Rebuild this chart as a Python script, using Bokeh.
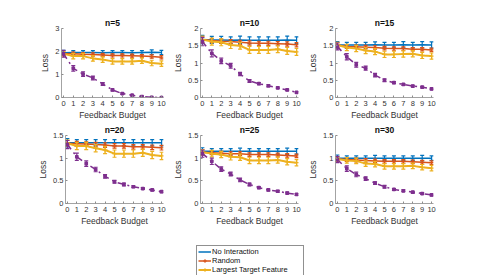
from bokeh.plotting import figure
from bokeh.layouts import column, row, Spacer
from bokeh.models import Range1d, FixedTicker, CustomJSTickFormatter, Legend, LegendItem
from bokeh.embed import file_html
from bokeh.resources import INLINE

budget = list(range(11))
titles = ["n=5", "n=10", "n=15", "n=20", "n=25", "n=30"]
y_max = [3, 2, 2, 1.5, 1.5, 1.5]
y_ticks = [[0, 1, 2, 3], [0, 0.5, 1, 1.5, 2], [0, 0.5, 1, 1.5, 2],
           [0, 0.5, 1, 1.5], [0, 0.5, 1, 1.5], [0, 0.5, 1, 1.5]]
x_ticks = list(range(11))
series_names = ["No Interaction", "Random", "Largest Target Feature"]

no_interaction = [
    [1.95, 1.96, 1.96, 1.96, 1.95, 1.96, 1.96, 1.95, 1.96, 1.97, 1.96],
    [1.68, 1.67, 1.67, 1.66, 1.67, 1.66, 1.66, 1.66, 1.66, 1.67, 1.66],
    [1.52, 1.52, 1.52, 1.52, 1.53, 1.52, 1.52, 1.53, 1.52, 1.53, 1.52],
    [1.34, 1.34, 1.34, 1.34, 1.34, 1.34, 1.34, 1.34, 1.34, 1.34, 1.34],
    [1.15, 1.15, 1.15, 1.15, 1.15, 1.15, 1.15, 1.15, 1.15, 1.15, 1.15],
    [1.00, 1.00, 1.00, 1.00, 1.00, 1.00, 1.00, 1.00, 1.00, 1.00, 1.00],
]
random_sel = [
    [1.90, 1.90, 1.88, 1.87, 1.85, 1.83, 1.83, 1.82, 1.80, 1.78, 1.75],
    [1.68, 1.65, 1.63, 1.62, 1.60, 1.58, 1.57, 1.57, 1.56, 1.55, 1.53],
    [1.52, 1.48, 1.47, 1.46, 1.45, 1.43, 1.42, 1.42, 1.40, 1.40, 1.38],
    [1.33, 1.32, 1.31, 1.30, 1.29, 1.27, 1.27, 1.25, 1.25, 1.24, 1.23],
    [1.13, 1.12, 1.11, 1.10, 1.10, 1.08, 1.08, 1.08, 1.07, 1.06, 1.05],
    [0.98, 0.97, 0.96, 0.95, 0.94, 0.93, 0.93, 0.93, 0.92, 0.91, 0.90],
]
largest_target = [
    [1.90, 1.80, 1.80, 1.70, 1.65, 1.57, 1.57, 1.57, 1.60, 1.50, 1.47],
    [1.68, 1.62, 1.60, 1.52, 1.50, 1.38, 1.38, 1.38, 1.40, 1.35, 1.32],
    [1.52, 1.45, 1.42, 1.36, 1.33, 1.25, 1.25, 1.26, 1.27, 1.22, 1.20],
    [1.33, 1.27, 1.27, 1.22, 1.18, 1.10, 1.10, 1.10, 1.12, 1.07, 1.05],
    [1.13, 1.10, 1.08, 1.03, 1.02, 0.95, 0.95, 0.95, 0.96, 0.92, 0.90],
    [0.98, 0.95, 0.94, 0.88, 0.87, 0.82, 0.82, 0.82, 0.83, 0.80, 0.78],
]
interactive = [
    [1.90, 1.27, 1.02, 0.85, 0.59, 0.33, 0.17, 0.10, 0.04, 0.01, 0.00],
    [1.62, 1.28, 1.06, 0.92, 0.68, 0.48, 0.40, 0.34, 0.28, 0.22, 0.15],
    [1.48, 1.18, 0.95, 0.85, 0.65, 0.50, 0.43, 0.38, 0.33, 0.30, 0.25],
    [1.30, 1.03, 0.88, 0.75, 0.60, 0.48, 0.42, 0.37, 0.33, 0.30, 0.26],
    [1.10, 0.93, 0.76, 0.65, 0.52, 0.42, 0.35, 0.30, 0.27, 0.23, 0.20],
    [0.97, 0.77, 0.64, 0.55, 0.45, 0.37, 0.31, 0.28, 0.25, 0.22, 0.19],
]

err_no_interaction = [
    [0.10, 0.08, 0.08, 0.08, 0.09, 0.08, 0.08, 0.09, 0.08, 0.10, 0.09],
    [0.12, 0.10, 0.10, 0.10, 0.11, 0.10, 0.10, 0.10, 0.10, 0.11, 0.10],
    [0.10, 0.08, 0.08, 0.08, 0.08, 0.08, 0.08, 0.09, 0.08, 0.09, 0.09],
    [0.09, 0.07, 0.07, 0.07, 0.07, 0.07, 0.07, 0.07, 0.07, 0.07, 0.07],
    [0.08, 0.06, 0.06, 0.06, 0.07, 0.06, 0.06, 0.06, 0.06, 0.07, 0.06],
    [0.07, 0.05, 0.05, 0.05, 0.06, 0.05, 0.05, 0.05, 0.05, 0.06, 0.05],
]
err_random = [
    [0.08, 0.07, 0.07, 0.07, 0.07, 0.07, 0.07, 0.07, 0.07, 0.07, 0.07],
    [0.08, 0.06, 0.06, 0.06, 0.06, 0.06, 0.06, 0.06, 0.06, 0.06, 0.06],
    [0.07, 0.05, 0.05, 0.05, 0.05, 0.05, 0.05, 0.05, 0.05, 0.05, 0.05],
    [0.06, 0.05, 0.05, 0.05, 0.05, 0.05, 0.05, 0.05, 0.05, 0.05, 0.05],
    [0.06, 0.04, 0.04, 0.04, 0.04, 0.04, 0.04, 0.04, 0.04, 0.04, 0.04],
    [0.05, 0.04, 0.04, 0.04, 0.04, 0.04, 0.04, 0.04, 0.04, 0.04, 0.04],
]
err_largest = [
    [0.10, 0.12, 0.12, 0.12, 0.12, 0.12, 0.12, 0.12, 0.12, 0.12, 0.12],
    [0.10, 0.10, 0.10, 0.10, 0.10, 0.10, 0.10, 0.10, 0.10, 0.10, 0.10],
    [0.08, 0.09, 0.09, 0.09, 0.09, 0.09, 0.09, 0.09, 0.09, 0.09, 0.09],
    [0.07, 0.08, 0.08, 0.08, 0.08, 0.08, 0.08, 0.08, 0.08, 0.08, 0.08],
    [0.06, 0.07, 0.07, 0.07, 0.07, 0.07, 0.07, 0.07, 0.07, 0.07, 0.07],
    [0.05, 0.06, 0.06, 0.06, 0.06, 0.06, 0.06, 0.06, 0.06, 0.06, 0.06],
]
err_interactive = [
    [0.15, 0.12, 0.10, 0.08, 0.06, 0.04, 0.03, 0.02, 0.02, 0.01, 0.01],
    [0.12, 0.10, 0.08, 0.07, 0.05, 0.04, 0.03, 0.03, 0.02, 0.02, 0.02],
    [0.10, 0.09, 0.07, 0.06, 0.05, 0.04, 0.03, 0.02, 0.02, 0.02, 0.02],
    [0.09, 0.08, 0.06, 0.05, 0.04, 0.03, 0.03, 0.02, 0.02, 0.02, 0.02],
    [0.08, 0.07, 0.05, 0.04, 0.04, 0.03, 0.02, 0.02, 0.02, 0.02, 0.02],
    [0.07, 0.06, 0.05, 0.04, 0.03, 0.03, 0.02, 0.02, 0.02, 0.02, 0.02],
]

BLUE, RED, YELLOW, PURPLE = "#0072BD", "#D95319", "#EDB120", "#7E2F8E"
FONT = "Liberation Sans"
AX = "#8c8c8c"
TXT = "#333333"

fmt = CustomJSTickFormatter(code="return String(Math.round(tick*100)/100);")


def draw_series(p, ys, es, color, width, marker=None, msize=5, dash="solid"):
    lo = [y - e for y, e in zip(ys, es)]
    hi = [y + e for y, e in zip(ys, es)]
    p.segment(x0=budget, y0=lo, x1=budget, y1=hi, line_color=color, line_width=1.2)
    p.scatter(x=budget, y=lo, marker="dash", size=4, line_color=color, line_width=1.2)
    p.scatter(x=budget, y=hi, marker="dash", size=4, line_color=color, line_width=1.2)
    p.line(budget, ys, line_color=color, line_width=width, line_dash=dash)
    if marker:
        p.scatter(x=budget, y=ys, marker=marker, size=msize, line_color=color,
                  fill_color=color, line_width=1.2)


def panel(i, top, bottom):
    p = figure(width=135, height=top + 71 + bottom, output_backend="svg",
               toolbar_location=None, x_range=Range1d(-0.2, 10.2),
               y_range=Range1d(0, y_max[i]), min_border_left=26,
               min_border_right=7, min_border_top=top, min_border_bottom=bottom,
               title=titles[i])
    p.title.text_font = FONT
    p.title.text_font_size = "8.5px"
    p.title.text_font_style = "bold"
    p.title.align = "center"
    p.title.standoff = 1
    p.title.text_color = "#111111"
    p.outline_line_color = None
    p.grid.visible = False
    p.background_fill_color = "white"
    p.border_fill_color = "white"
    p.xaxis.ticker = FixedTicker(ticks=x_ticks)
    p.yaxis.ticker = FixedTicker(ticks=y_ticks[i])
    p.yaxis.formatter = fmt
    p.xaxis.axis_label = "Feedback Budget"
    p.yaxis.axis_label = "Loss"
    for ax in (p.xaxis, p.yaxis):
        ax.axis_line_color = AX
        ax.axis_line_width = 0.8
        ax.major_tick_line_color = AX
        ax.major_tick_in = 2
        ax.major_tick_out = 0
        ax.minor_tick_line_color = None
        ax.major_label_text_font = FONT
        ax.major_label_text_font_size = "7.5px"
        ax.major_label_text_color = TXT
        ax.major_label_standoff = 2
        ax.axis_label_text_font = FONT
        ax.axis_label_text_font_size = "8.5px"
        ax.axis_label_text_font_style = "normal"
        ax.axis_label_text_color = TXT
        ax.axis_label_standoff = 2
    p.xaxis.major_label_standoff = 3
    p.xaxis.axis_label_standoff = 1
    draw_series(p, no_interaction[i], err_no_interaction[i], BLUE, 1.5)
    draw_series(p, random_sel[i], err_random[i], RED, 1.5, marker="cross", msize=4)
    draw_series(p, largest_target[i], err_largest[i], YELLOW, 2, marker="cross", msize=5)
    draw_series(p, interactive[i], err_interactive[i], PURPLE, 1.5, marker="square",
                msize=2.5, dash="dashdot")
    return p


row1 = row(Spacer(width=35, height=114), panel(0, 20, 23), panel(1, 20, 23), panel(2, 20, 23))
row2 = row(Spacer(width=35, height=106), panel(3, 12, 23), panel(4, 12, 23), panel(5, 12, 23))

lg = figure(width=470, height=47, output_backend="svg", toolbar_location=None,
            x_range=Range1d(0, 1), y_range=Range1d(0, 1), min_border=0)
lg.axis.visible = False
lg.grid.visible = False
lg.outline_line_color = None
far = [-10]
r_b = lg.line(x=far, y=far, line_color=BLUE, line_width=1.5)
r_r = lg.line(x=far, y=far, line_color=RED, line_width=1.5)
m_r = lg.scatter(x=far, y=far, marker="cross", size=4, line_color=RED, line_width=1.2)
r_y = lg.line(x=far, y=far, line_color=YELLOW, line_width=2)
m_y = lg.scatter(x=far, y=far, marker="cross", size=5, line_color=YELLOW, line_width=1.2)
legend = Legend(items=[LegendItem(label=series_names[0], renderers=[r_b]),
                       LegendItem(label=series_names[1], renderers=[r_r, m_r]),
                       LegendItem(label=series_names[2], renderers=[r_y, m_y])],
                location=(196, -1))
legend.label_text_font = FONT
legend.label_text_font_size = "7.5px"
legend.label_text_color = "#111111"
legend.glyph_width = 13
legend.glyph_height = 9
legend.label_height = 9
legend.label_width = 90
legend.label_standoff = 1
legend.spacing = 0
legend.padding = 1
legend.margin = 0
legend.border_line_color = "#222222"
legend.border_line_width = 0.6
legend.background_fill_alpha = 1
lg.add_layout(legend)

layout = column(Spacer(width=470, height=8), row1, row2, lg)
open("out.html", "w").write(file_html(layout, INLINE))
